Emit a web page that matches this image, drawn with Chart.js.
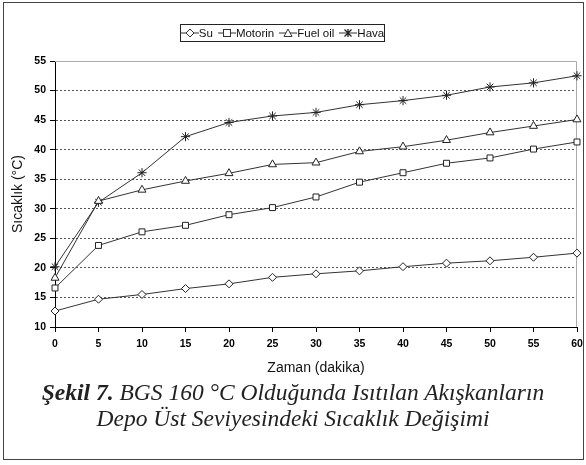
<!DOCTYPE html>
<html>
<head>
<meta charset="utf-8">
<script src="https://cdn.jsdelivr.net/npm/chart.js@4.4.1/dist/chart.umd.min.js"></script>
<style>
  body { margin: 0; background: #fff; }
  #wrap { position: relative; width: 586px; height: 465px; overflow: hidden; }
  #frame { position: absolute; left: 3px; top: 2px; width: 579px; height: 456px; border: 1.5px solid #444; }
  #legend {
    position: absolute; left: 180px; top: 24px; height: 18px; width: 205px;
    border: 1px solid #222; box-sizing: border-box;
    display: flex; align-items: center; justify-content: center;
    font: 11.5px "Liberation Sans", Arial, sans-serif; color: #111; white-space: nowrap;
  }
  #legend span.item { display: inline-flex; align-items: center; margin: 0 2.5px; }
  .cap {
    position: absolute; left: 0; width: 586px; text-align: center;
    font: italic 23.5px "Liberation Serif", "Times New Roman", serif; color: #222;
  }
</style>
</head>
<body>
<div id="wrap">
  <div id="frame"></div>
  <canvas id="chart" width="586" height="465"></canvas>
  <div id="legend"></div>
  <div class="cap" style="top:379px"><b>Şekil 7.</b> BGS 160 °C Olduğunda Isıtılan Akışkanların</div>
  <div class="cap" style="top:405px">Depo Üst Seviyesindeki Sıcaklık Değişimi</div>
</div>
<script>
// Time axis (minutes)
const times = ['0', '5', '10', '15', '20', '25', '30', '35', '40', '45', '50', '55', '60'];
const yTicks = [10, 15, 20, 25, 30, 35, 40, 45, 50, 55];

// Temperatures (°C)
const su      = [12.7, 14.7, 15.5, 16.5, 17.3, 18.4, 19.0, 19.5, 20.2, 20.8, 21.2, 21.8, 22.5];
const motorin = [16.6, 23.8, 26.1, 27.2, 29.0, 30.2, 32.0, 34.5, 36.1, 37.7, 38.6, 40.1, 41.3];
const fuelOil = [18.3, 31.3, 33.2, 34.7, 36.0, 37.5, 37.8, 39.7, 40.5, 41.6, 42.9, 44.0, 45.1];
const hava    = [20.2, 31.1, 36.1, 42.2, 44.6, 45.7, 46.3, 47.6, 48.3, 49.2, 50.6, 51.3, 52.5];

const seriesNames = ['Su', 'Motorin', 'Fuel oil', 'Hava'];
const seriesData = [su, motorin, fuelOil, hava];
const markers = ['rectRot', 'rect', 'triangle', 'star'];
const markerSize = [4, 4.2, 4.6, 4.6];

const lineColor = '#333';

// Build legend with small line+marker icons
const icons = [
  '<path d="M5,5 L9,1 L13,5 L9,9 Z" fill="#fff" stroke="#333"/>',
  '<rect x="5.5" y="1.5" width="7" height="7" fill="#fff" stroke="#333"/>',
  '<path d="M9,1 L13,8.5 L5,8.5 Z" fill="#fff" stroke="#333"/>',
  '<path d="M5.5,1.5 L12.5,8.5 M12.5,1.5 L5.5,8.5 M9,1 L9,9" stroke="#222" stroke-width="1.3"/>'
];
const legendEl = document.getElementById('legend');
seriesNames.forEach((name, i) => {
  const item = document.createElement('span');
  item.className = 'item';
  item.innerHTML = '<svg width="18" height="10"><line x1="0" y1="5" x2="18" y2="5" stroke="#333"/>' + icons[i] + '</svg>' + name;
  legendEl.appendChild(item);
});

// plot border (top and right) in light gray
const plotBorder = {
  id: 'plotBorder',
  beforeDatasetsDraw(chart) {
    const { ctx, chartArea: a } = chart;
    ctx.save();
    ctx.strokeStyle = '#aaa';
    ctx.lineWidth = 1;
    ctx.beginPath();
    ctx.moveTo(a.left, a.top + 0.5);
    ctx.lineTo(a.right - 0.5, a.top + 0.5);
    ctx.lineTo(a.right - 0.5, a.bottom);
    ctx.stroke();
    ctx.restore();
  }
};

const tickFont = { family: '"Liberation Sans", Arial, sans-serif', size: 10.5, weight: 'bold' };
const titleFont = { family: '"Liberation Sans", Arial, sans-serif', size: 14 };

new Chart(document.getElementById('chart').getContext('2d'), {
  type: 'line',
  data: {
    labels: times,
    datasets: seriesData.map((d, i) => ({
      label: seriesNames[i],
      data: d,
      borderColor: lineColor,
      borderWidth: 1,
      pointStyle: markers[i],
      pointRadius: markerSize[i],
      pointBackgroundColor: '#fff',
      pointBorderColor: '#222',
      pointBorderWidth: 1,
      tension: 0
    }))
  },
  options: {
    responsive: false,
    animation: false,
    layout: { padding: { left: 0, right: 9, top: 61, bottom: 88 } },
    plugins: { legend: { display: false }, tooltip: { enabled: false } },
    scales: {
      x: {
        type: 'category',
        offset: false,
        afterFit: s => { s.height = 50; s.paddingLeft = 0; s.paddingRight = 0; },
        grid: { drawOnChartArea: false, drawTicks: true, tickLength: 5, tickColor: '#000' },
        border: { color: '#000', width: 1 },
        ticks: { font: tickFont, color: '#000', padding: 6, maxRotation: 0, autoSkip: false },
        title: { display: true, text: 'Zaman (dakika)', font: titleFont, color: '#111', padding: { top: 0, bottom: 0 } }
      },
      y: {
        min: 10,
        max: 55,
        afterFit: s => { s.width = 55; s.paddingTop = 0; s.paddingBottom = 0; },
        afterBuildTicks: s => { s.ticks = yTicks.map(v => ({ value: v })); },
        grid: {
          color: ctx => (ctx.tick && (ctx.tick.value === 10 || ctx.tick.value === 55)) ? 'rgba(0,0,0,0)' : '#555',
          tickColor: '#000',
          tickLength: 5,
          lineWidth: 1
        },
        border: { color: '#000', width: 1, dash: [2, 2] },
        ticks: { font: tickFont, color: '#000', padding: 4 },
        title: { display: true, text: 'Sıcaklık (°C)', font: titleFont, color: '#111', padding: { top: 10, bottom: 0 } }
      }
    }
  },
  plugins: [plotBorder]
});
</script>
</body>
</html>
